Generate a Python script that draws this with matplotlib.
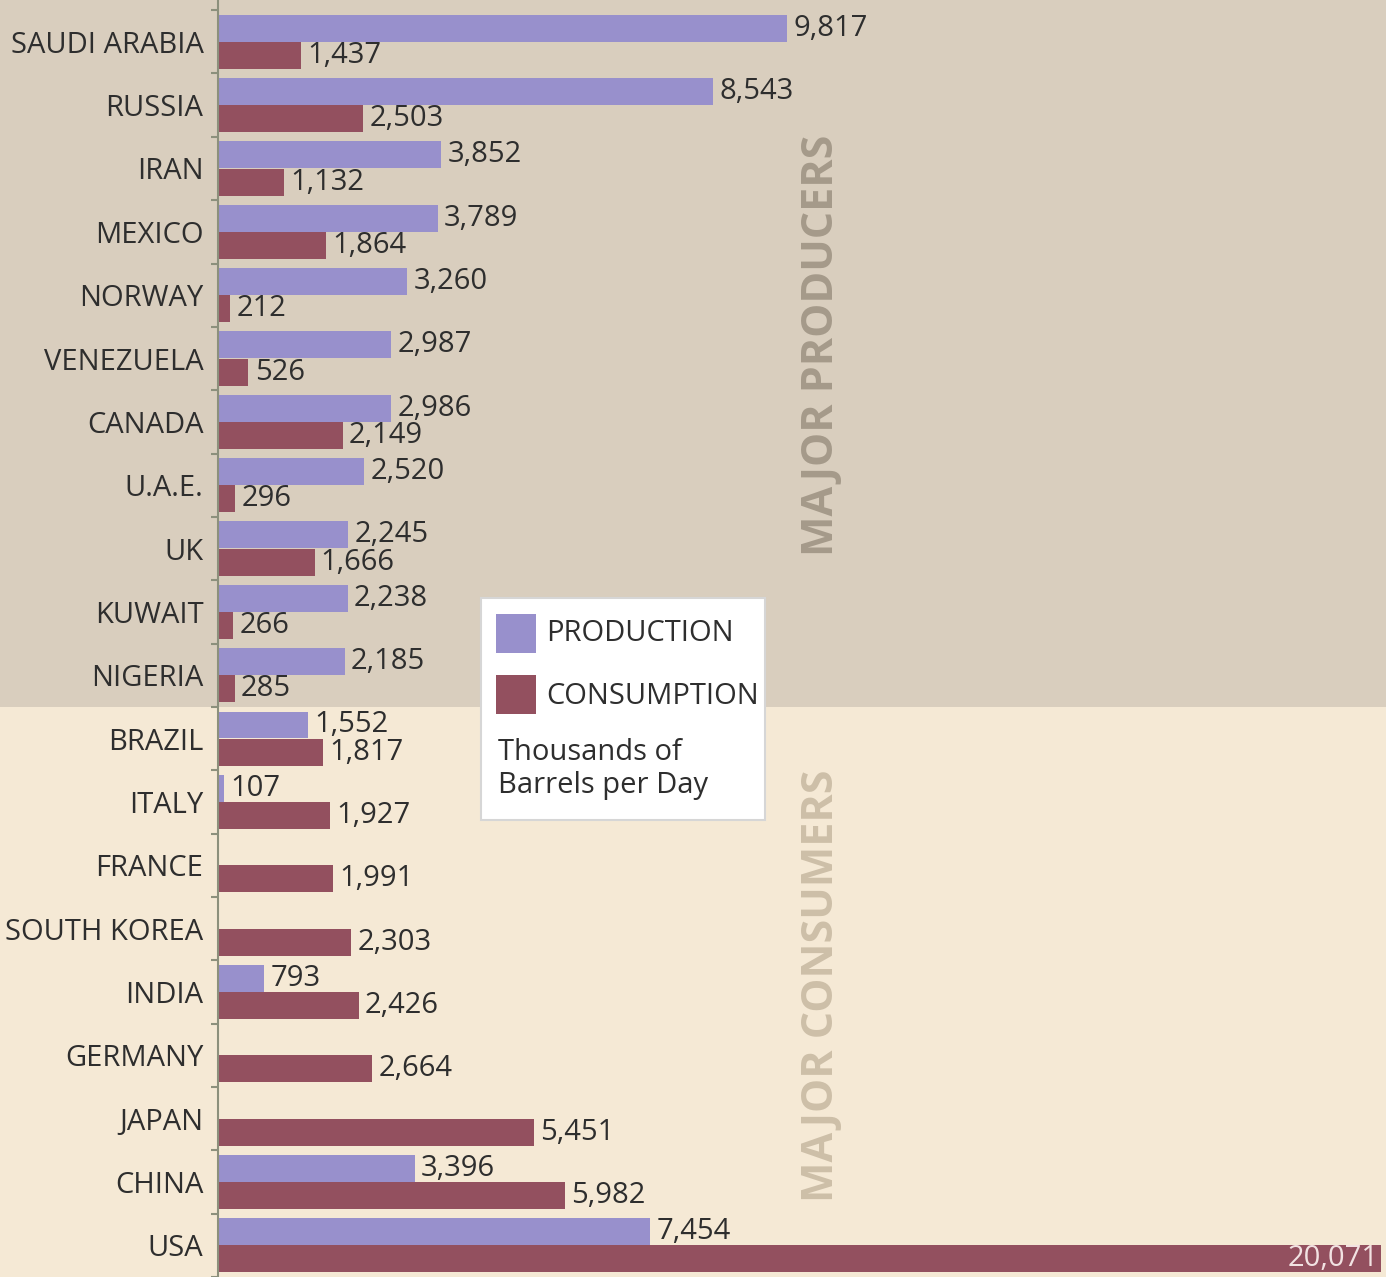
import matplotlib
matplotlib.use("Agg")
import matplotlib.pyplot as plt
import matplotlib.transforms as mtransforms
from matplotlib.patches import Rectangle
import numpy as np

# Oil production and consumption, thousands of barrels per day
countries = ["SAUDI ARABIA", "RUSSIA", "IRAN", "MEXICO", "NORWAY", "VENEZUELA",
             "CANADA", "U.A.E.", "UK", "KUWAIT", "NIGERIA", "BRAZIL", "ITALY",
             "FRANCE", "SOUTH KOREA", "INDIA", "GERMANY", "JAPAN", "CHINA", "USA"]
production = [9817, 8543, 3852, 3789, 3260, 2987, 2986, 2520, 2245, 2238, 2185,
              1552, 107, 0, 0, 793, 0, 0, 3396, 7454]
consumption = [1437, 2503, 1132, 1864, 212, 526, 2149, 296, 1666, 266, 285,
               1817, 1927, 1991, 2303, 2426, 2664, 5451, 5982, 20071]
n_producers = 11  # first 11 rows are the major producers

prod_color = "#9890cc"
cons_color = "#93505f"
top_bg = "#d9cebe"
bottom_bg = "#f5e9d5"
text_color = "#2e2e2e"
font = ["Open Sans", "DejaVu Sans"]
fs = 21

W, H = 1386, 1277
fig = plt.figure(figsize=(W / 100, H / 100), dpi=100)
ax = fig.add_axes([218 / W, 0, 1 - 218 / W, 1])
ax.set_facecolor("none")

def fx(x):
    return x / W

def fy(y):
    return 1 - y / H

y = np.arange(len(countries))
bar_h = 0.425
off = 0.215

# background bands across the whole figure width, split between the two groups
blend = mtransforms.blended_transform_factory(fig.transFigure, ax.transData)
fig.patches.append(Rectangle((0, -5), 1, n_producers - 0.5 + 5, transform=blend,
                             facecolor=top_bg, edgecolor="none", zorder=-10))
fig.patches.append(Rectangle((0, n_producers - 0.5), 1, 20, transform=blend,
                             facecolor=bottom_bg, edgecolor="none", zorder=-10))

ax.barh(y - off, production, height=bar_h, color=prod_color, edgecolor="none")
ax.barh(y + off, consumption, height=bar_h, color=cons_color, edgecolor="none")

ax.set_xlim(0, 20152)
ax.set_ylim(len(countries) - 0.55, -0.66)

# value labels
for i in range(len(countries)):
    if production[i] > 0:
        ax.annotate(f"{production[i]:,}", xy=(production[i], i - off), xytext=(4.5, 0),
                    textcoords="offset points", ha="left", va="center",
                    fontsize=fs, color=text_color, family=font)
    if consumption[i] > 15000:
        ax.annotate(f"{consumption[i]:,}", xy=(consumption[i], i + off), xytext=(-2, 0),
                    textcoords="offset points", ha="right", va="center",
                    fontsize=fs, color="#f2e2e2", family=font)
    else:
        ax.annotate(f"{consumption[i]:,}", xy=(consumption[i], i + off), xytext=(4.5, 0),
                    textcoords="offset points", ha="left", va="center",
                    fontsize=fs, color=text_color, family=font)

# axis styling
for s in ["top", "right", "bottom"]:
    ax.spines[s].set_visible(False)
ax.spines["left"].set_color("#8c907c")
ax.spines["left"].set_linewidth(1.5)
ax.set_xticks([])
ax.set_yticks(y)
ax.set_yticklabels(countries, fontsize=fs, color=text_color, family=font)
ax.set_yticks(np.arange(-0.5, len(countries), 1), minor=True)
ax.tick_params(axis="y", which="major", length=0, pad=10.5)
ax.tick_params(axis="y", which="minor", length=5, width=1.5, color="#8c907c")

# legend box
fig.patches.append(Rectangle((fx(481), fy(820)), fx(284), 222 / H, transform=fig.transFigure,
                             facecolor="white", edgecolor="#d6d6d6", linewidth=1.5, zorder=5))
fig.patches.append(Rectangle((fx(496), fy(653)), fx(40), 39 / H, transform=fig.transFigure,
                             facecolor=prod_color, edgecolor="none", zorder=6))
fig.patches.append(Rectangle((fx(496), fy(714)), fx(40), 39 / H, transform=fig.transFigure,
                             facecolor=cons_color, edgecolor="none", zorder=6))
fig.text(fx(546), fy(634), "PRODUCTION", fontsize=fs, color=text_color, family=font,
         ha="left", va="center", zorder=7)
fig.text(fx(546), fy(696), "CONSUMPTION", fontsize=fs, color=text_color, family=font,
         ha="left", va="center", zorder=7)
fig.text(fx(498), fy(769), "Thousands of\nBarrels per Day", fontsize=fs, color=text_color,
         family=font, ha="left", va="center", linespacing=1.22, zorder=7)

# group labels
fig.text(fx(821), fy(345), "MAJOR PRODUCERS", rotation=90, ha="center", va="center",
         fontsize=31, fontweight="bold", color="#a59a8a", family=font)
fig.text(fx(821), fy(986), "MAJOR CONSUMERS", rotation=90, ha="center", va="center",
         fontsize=31, fontweight="bold", color="#cdbfa8", family=font)

fig.savefig("out.png", dpi=100)
